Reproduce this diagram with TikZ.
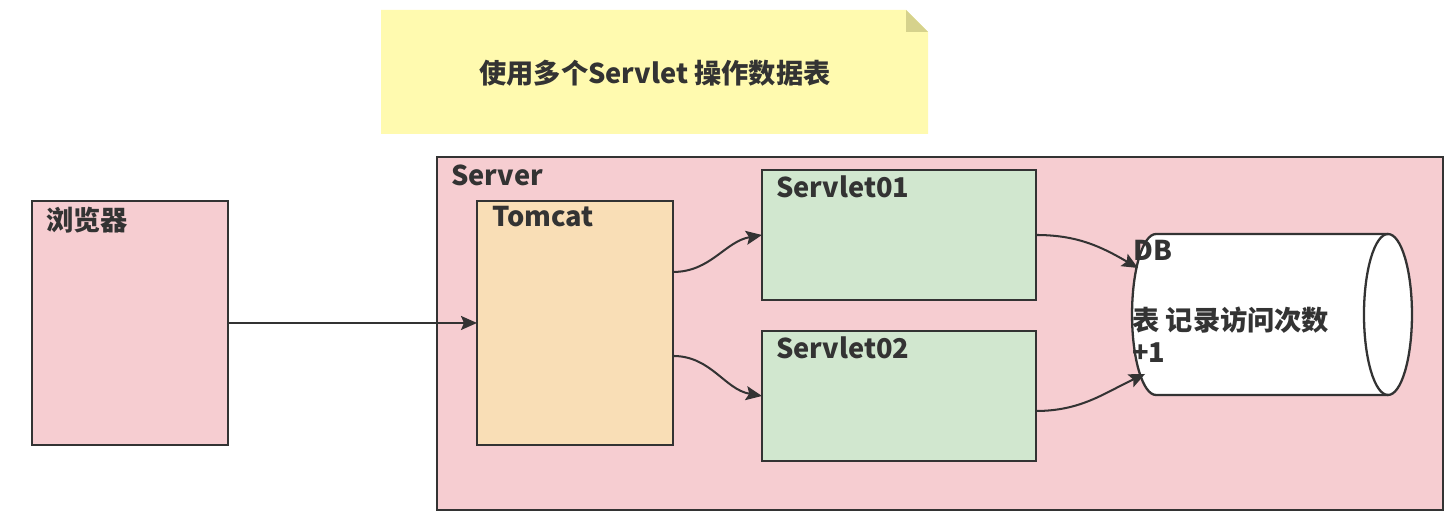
\documentclass[tikz,border=0pt]{standalone}
\usepackage{fontspec}
\setmainfont{Noto Sans CJK SC}
\usetikzlibrary{positioning}
\usetikzlibrary{calc}
\usetikzlibrary{arrows.meta}
\definecolor{notebg}{HTML}{FFFAAF}
\definecolor{notefold}{HTML}{D6D28C}
\definecolor{pinkbg}{HTML}{F6CDD1}
\definecolor{peachbg}{HTML}{F9DEB6}
\definecolor{greenbg}{HTML}{D1E7CF}
\definecolor{linegray}{HTML}{333333}

\begin{document}
\begin{tikzpicture}[x=0.02cm, y=-0.02cm,
                        every node/.style={font=\fontsize{15.5}{16.5}\selectfont\bfseries, text=linegray},
                        box/.style={draw=linegray, line width=1.3pt, rectangle, anchor=north west,
                                    inner sep=0pt, outer sep=0pt},
                        tag/.style={inner sep=0pt, anchor=north west},
                        drumcap/.style={x radius=0.48cm, y radius=1.61cm},
                        link/.style={draw=linegray, line width=1.15pt,
                                     -{Stealth[length=0.32cm, width=0.28cm, inset=0.06cm]}}]
            \useasboundingbox (0,0) rectangle (1450,516);

            % sticky note with the title
            \fill[notebg] (381,10) -- (906,10) -- (928,32) -- (928,134) -- (381,134) -- cycle;
            \fill[notefold] (906,10) -- (928,32) -- (906,32) -- cycle;
            \node (title) at (655,73) {使用多个Servlet 操作数据表};

            % boxes
            \node[box, fill=pinkbg, minimum width=3.92cm, minimum height=4.88cm] (browser) at (32,201) {};
            \node[box, fill=pinkbg, minimum width=20.12cm, minimum height=7.06cm] (server) at (437,157) {};
            \node[box, fill=peachbg, minimum width=3.92cm, minimum height=4.88cm] (tomcat) at (477,201) {};
            \node[box, fill=greenbg, minimum width=5.48cm, minimum height=2.6cm] (servlet1) at (762,170) {};
            \node[box, fill=greenbg, minimum width=5.48cm, minimum height=2.6cm] (servlet2) at (762,331) {};

            % database drum, lying on its side
            \node[inner sep=0pt, outer sep=0pt, minimum width=5.6cm, minimum height=3.22cm] (db) at (1272,314.5) {};
            \draw[linegray, line width=1.3pt, fill=white]
                ($(db.north west)+(24,0)$) -- ($(db.north east)+(-24,0)$)
                arc[drumcap, start angle=90, end angle=-90]
                -- ($(db.south west)+(24,0)$)
                arc[drumcap, start angle=270, end angle=90] -- cycle;
            \draw[linegray, line width=1.3pt] ($(db.north east)+(-24,0)$) arc[drumcap, start angle=90, end angle=270];

            % labels
            \node[tag, below right=0.15cm and 0.28cm of server.north west] (serverlbl) {Server};
            \node[tag, below right=0.12cm and 0.28cm of browser.north west] (browserlbl) {浏览器};
            \node[tag, below right=0.1cm and 0.3cm of tomcat.north west] (tomcatlbl) {Tomcat};
            \node[tag, below right=0.1cm and 0.28cm of servlet1.north west] (servlet1lbl) {Servlet01};
            \node[tag, below right=0.1cm and 0.28cm of servlet2.north west] (servlet2lbl) {Servlet02};
            \node[tag] (dblbl) at (1133,240) {DB};
            \node[tag, align=left, font=\fontsize{15.5}{18}\selectfont\bfseries] (dbtext) at (1132,307) {表 记录访问次数\\+1};

            % connectors
            \draw[link] (browser.east) -- (tomcat.west);
            \draw[link] ([yshift=1.02cm]tomcat.east) to[out=0, in=190] (servlet1.west);
            \draw[link] ([yshift=-0.66cm]tomcat.east) to[out=0, in=170] (servlet2.west);
            \draw[link] (servlet1.east) to[out=0, in=150] ([xshift=0.12cm, yshift=0.93cm]db.west);
            \draw[link] ([yshift=-0.3cm]servlet2.east) to[out=0, in=205] ([xshift=0.26cm, yshift=-1.19cm]db.west);
        \end{tikzpicture}
\end{document}
